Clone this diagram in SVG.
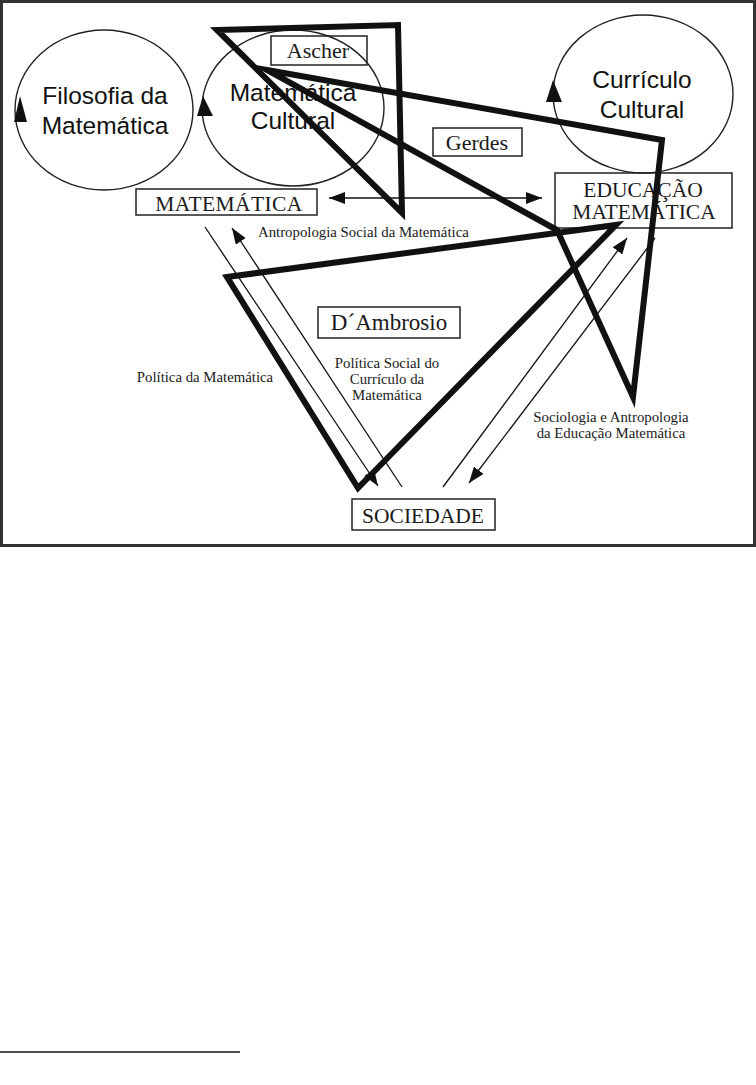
<svg xmlns="http://www.w3.org/2000/svg" width="756" height="1085" viewBox="0 0 756 1085">
<style>
.frame{fill:#fff;stroke:#333;stroke-width:3}
.circ{fill:none;stroke:#222;stroke-width:1.4}
.box{fill:none;stroke:#222;stroke-width:1.5}
.thick{fill:none;stroke:#111;stroke-width:6;stroke-linejoin:miter;stroke-miterlimit:10}
.thin{fill:none;stroke:#111;stroke-width:1.3}
.head{fill:#111}
.sans{font-family:"Liberation Sans",Arial,sans-serif;font-size:24.5px;fill:#111;text-anchor:middle}
.serif{font-family:"Liberation Serif","Times New Roman",serif;fill:#1a1a1a;text-anchor:middle}
.start{text-anchor:start}
.lab{font-size:14.8px}
</style>
<defs>
<marker id="arr" viewBox="0 0 16 12" markerUnits="userSpaceOnUse" markerWidth="16" markerHeight="12" refX="16" refY="6" orient="auto-start-reverse">
<path d="M0,0 L16,6 L0,12 z" fill="#111"/>
</marker>
</defs>
<rect width="756" height="1085" fill="#fff"/>
<rect class="frame" x="1.5" y="1.5" width="753" height="544"/>

<g id="filosofia">
<ellipse class="circ" cx="104" cy="110" rx="89" ry="80"/>
<polygon class="head" points="20,96 27,122 14,122"/>
<text class="sans" x="105" y="104">Filosofia da</text>
<text class="sans" x="105" y="134">Matemática</text>
</g>
<g id="matematica-cultural">
<ellipse class="circ" cx="293" cy="108" rx="91" ry="78"/>
<polygon class="head" points="203,96 213,116 197,116"/>
<text class="sans" x="293" y="101">Matemática</text>
<text class="sans" x="293" y="129">Cultural</text>
</g>
<g id="curriculo-cultural">
<ellipse class="circ" cx="643" cy="94" rx="90" ry="79"/>
<polygon class="head" points="553,80 562,102 546,102"/>
<text class="sans" x="642" y="88">Currículo</text>
<text class="sans" x="642" y="118">Cultural</text>
</g>
<g id="ascher">
<rect class="box" x="271" y="36" width="96" height="29"/>
<text class="serif" x="318" y="58" font-size="22">Ascher</text>
</g>
<g id="gerdes">
<rect class="box" x="433" y="128" width="89" height="28"/>
<text class="serif" x="477" y="150" font-size="22">Gerdes</text>
</g>
<g id="matematica">
<rect class="box" x="136" y="189" width="181" height="26"/>
<text class="serif" x="229" y="211" font-size="21.5" letter-spacing="0.4">MATEMÁTICA</text>
</g>
<g id="educacao-matematica">
<rect class="box" x="555" y="173" width="177" height="55"/>
<text class="serif" x="643" y="197" font-size="21.5">EDUCAÇÃO</text>
<text class="serif" x="644" y="219" font-size="21.5">MATEMÁTICA</text>
</g>
<g id="dambrosio">
<rect class="box" x="318" y="307" width="142" height="31"/>
<text class="serif" x="389" y="330" font-size="23">D´Ambrosio</text>
</g>
<g id="sociedade">
<rect class="box" x="352" y="499" width="143" height="31"/>
<text class="serif" x="423" y="523" font-size="21.5">SOCIEDADE</text>
</g>

<g id="labels">
<text class="serif start lab" x="258" y="237">Antropologia Social da Matemática</text>
<text class="serif lab" x="205" y="382">Política da Matemática</text>
<text class="serif lab" x="387" y="368">Política Social do</text>
<text class="serif lab" x="387" y="384">Currículo da</text>
<text class="serif lab" x="387" y="400">Matemática</text>
<text class="serif lab" x="611" y="422">Sociologia e Antropologia</text>
<text class="serif lab" x="611" y="438">da Educação Matemática</text>
</g>

<g id="connectors">
<line class="thin" x1="329" y1="198" x2="542" y2="198" marker-start="url(#arr)" marker-end="url(#arr)"/>
<line class="thin" x1="205" y1="227" x2="378" y2="486" marker-end="url(#arr)"/>
<line class="thin" x1="402" y1="487" x2="232" y2="228" marker-end="url(#arr)"/>
<line class="thin" x1="443" y1="487" x2="627" y2="238" marker-end="url(#arr)"/>
<line class="thin" x1="655" y1="238" x2="469" y2="483" marker-end="url(#arr)"/>
<polygon class="thick" stroke-width="5" points="217,30 398,25 402,213"/>
<polygon class="thick" points="267,70 662,140 633,397 557,230"/>
<polygon class="thick" points="227,277 616,225 358,488"/>
</g>
<line x1="0" y1="1052" x2="240" y2="1052" stroke="#111" stroke-width="1.5"/>
</svg>
